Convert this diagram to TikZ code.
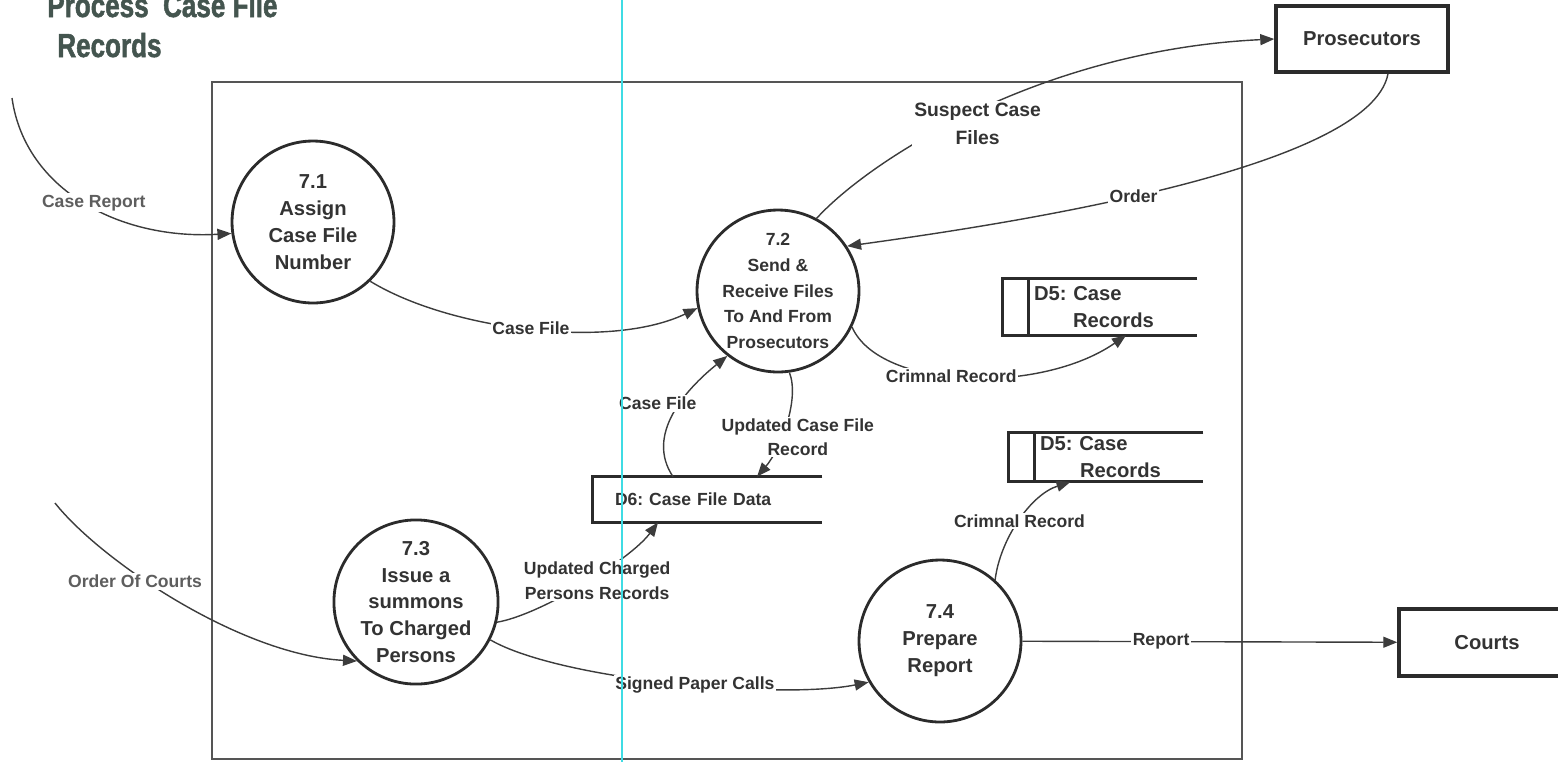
\documentclass[tikz,border=0pt]{standalone}
\usepackage{fontspec}
\setmainfont{Liberation Sans}
\newfontfamily\titlefont{Liberation Sans}[FakeStretch=0.78,FakeBold=1.5]
\definecolor{inkc}{HTML}{2B2B2B}
\definecolor{txtc}{HTML}{333333}
\definecolor{greyc}{HTML}{5E5E5E}
\definecolor{linec}{HTML}{3C3C3C}
\definecolor{framec}{HTML}{555555}
\definecolor{guidec}{HTML}{3FDCE4}
\definecolor{titlec}{HTML}{44554F}
\usetikzlibrary{arrows.meta}
\tikzset{
  >={Triangle[length=2.8mm,width=2.2mm]},
  proc/.style={circle,draw=inkc,line width=1.6pt,fill=white,minimum size=3.24cm,inner sep=0pt,align=center,text=txtc,font=\bfseries\fontsize{11.5}{15.3}\selectfont},
  sproc/.style={proc,font=\bfseries\fontsize{10}{14.7}\selectfont},
  ext/.style={rectangle,draw=inkc,line width=2pt,fill=white,inner sep=0pt,text=txtc,font=\bfseries\fontsize{11.5}{14}\selectfont},
  store/.style={inner xsep=0.62cm,inner ysep=0pt,text width=2.64cm,align=left,minimum width=3.88cm,minimum height=1.12cm,text=txtc,font=\bfseries\fontsize{11.5}{15.3}\selectfont},
  dstore6/.style={inner xsep=0.44cm,text width=3.7cm,minimum width=4.58cm,minimum height=0.9cm,font=\bfseries\fontsize{10}{12}\selectfont},
  storeln/.style={draw=inkc,line width=1.6pt},
  flow/.style={->,draw=linec,line width=0.8pt},
  lbl/.style={fill=white,inner sep=1pt,text=txtc,align=center,font=\bfseries\fontsize{10}{13.8}\selectfont},
  slbl/.style={lbl,font=\bfseries\fontsize{11}{16.4}\selectfont},
  glbl/.style={lbl,text=greyc},
  frame/.style={draw=framec,line width=0.8pt},
  guide/.style={draw=guidec,line width=1pt},
  ttl/.style={text=titlec,inner sep=0pt,anchor=base west,font=\titlefont\bfseries\fontsize{19}{22}\selectfont},
}
\newcommand{\dstore}[4][]{%
  \node[store,#1] (#2) at (#3) {#4};
  \draw[storeln] (#2.north east) -- (#2.north west) -- (#2.south west) -- (#2.south east);}

\begin{document}
\frenchspacing
\begin{tikzpicture}[x=0.02cm,y=-0.02cm]
  \clip (0,0) rectangle (1558,762);
  % boundary and title
  \draw[frame] (212,82) rectangle (1242,759);
  \node[ttl] (title1) at (47,17) {Process\ \ Case File};
  \node[ttl] (title2) at (57,57) {Records};
  % processes
  \node[proc] (n71) at (313,222) {7.1\\Assign\\Case File\\Number};
  \node[sproc] (n72) at (778,291) {7.2\\Send \&\\Receive Files\\To And From\\Prosecutors};
  \node[proc] (n73) at (416,602) {7.3\\Issue a\\summons\\To Charged\\Persons};
  \node[proc] (n74) at (940,641) {7.4\\Prepare\\Report};
  % external entities
  \node[ext,minimum width=3.44cm,minimum height=1.32cm] (pros) at (1362,39) {Prosecutors};
  \node[ext,minimum width=3.52cm,minimum height=1.34cm] (courts) at (1487,642.5) {Courts};
  % data stores
  \dstore{d5a}{1100,307}{D5: Case\\\hspace*{0.78cm}Records}
  \dstore[minimum height=0.98cm]{d5b}{1106,457}{D5: Case\\\hspace*{0.8cm}Records}
  \dstore[dstore6]{d6}{707.5,499.5}{D6: Case File Data}
  \draw[storeln] ([xshift=0.52cm]d5a.north west) -- ([xshift=0.52cm]d5a.south west);
  \draw[storeln] ([xshift=0.52cm]d5b.north west) -- ([xshift=0.52cm]d5b.south west);
  % flows
  \coordinate (cr0) at (12,98);
  \coordinate (oc0) at (55,503);
  \draw[flow] (cr0) .. controls (25,190) and (120,240) .. (n71.188) node[glbl,pos=0.5,xshift=0.18cm]{Case Report};
  \draw[flow] (n71.-46) .. controls (450,330) and (610,350) .. (n72.192) node[lbl,pos=0.5]{Case File};
  \draw[flow] (n72.62) .. controls (870,160) and (1040,50) .. (pros.west) node[slbl,pos=0.5,yshift=-0.26cm]{Suspect Case\\Files};
  \draw[flow] ([xshift=0.52cm]pros.south) .. controls (1370,170) and (1000,225) .. (n72.33) node[lbl,pos=0.55]{Order};
  \draw[flow] (n72.-26) .. controls (880,390) and (1040,395) .. ([xshift=0.52cm]d5a.south) node[lbl,pos=0.45]{Crimnal Record};
  \draw[flow] ([xshift=-0.69cm]d6.north) .. controls (645,435) and (685,390) .. (n72.232) node[lbl,pos=0.5,xshift=-0.32cm,yshift=0.2cm]{Case File};
  \draw[flow] (n72.-82) .. controls (800,400) and (780,450) .. ([xshift=0.99cm]d6.north) node[lbl,pos=0.5,xshift=0.24cm,yshift=-0.24cm]{Updated Case File\\Record};
  \draw[flow] (n73.-14) .. controls (540,615) and (630,560) .. ([xshift=-0.99cm]d6.south) node[lbl,pos=0.5,xshift=0.28cm,yshift=0.06cm]{Updated Charged\\Persons Records};
  \draw[flow] (n73.-27) .. controls (560,680) and (780,700) .. (n74.210) node[lbl,pos=0.55]{Signed Paper Calls};
  \draw[flow] (n74.48) .. controls (1000,540) and (1030,495) .. ([xshift=-0.71cm]d5b.south) node[lbl,pos=0.5]{Crimnal Record};
  \draw[flow] (oc0) .. controls (100,560) and (240,655) .. (n73.225) node[glbl,pos=0.4,xshift=-0.24cm]{Order Of Courts};
  \draw[flow] (n74) -- (courts) node[lbl,pos=0.37]{Report};
  % guide line
  \draw[guide] (622,0) -- (622,762);
\end{tikzpicture}
\end{document}
